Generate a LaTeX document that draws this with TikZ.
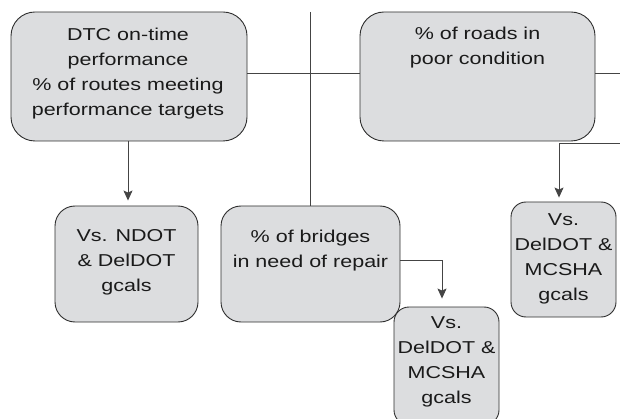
\documentclass[tikz,border=0pt]{standalone}
\usepackage{fontspec}
\setmainfont[FakeStretch=1.25]{Liberation Sans}
\usetikzlibrary{arrows.meta,calc}
\definecolor{boxfill}{HTML}{DCDDDF}
\definecolor{edge}{HTML}{2E2E2E}
\definecolor{linec}{HTML}{444444}
\definecolor{ink}{HTML}{1A1A1A}
\begin{document}
\begin{tikzpicture}[x=1pt,y=-1pt,
  box/.style={draw=edge, line width=0.9pt, fill=boxfill, inner sep=0pt, rounded corners=#1},
  box/.default=20pt,
  txt/.style={inner sep=0pt, align=center, text=ink, font=\fontsize{17.2}{25}\selectfont, anchor=north},
  conn/.style={draw=linec, line width=0.9pt},
  arr/.style={conn, -{Stealth[length=10pt,width=9pt,inset=2pt]}}]
\useasboundingbox (0,0) rectangle (620,419);

% boxes
\node[box=24pt, minimum width=236pt, minimum height=129pt] (A) at (129,76.5) {};
\node[txt] (At) at (128,28) {DTC on-time\\performance\\\% of routes meeting\\performance targets};

\node[box=24pt, minimum width=235pt, minimum height=129pt] (B) at (477.5,76.5) {};
\node[txt] (Bt) at (477.5,27) {\% of roads in\\poor condition};

\node[box=20pt, minimum width=143pt, minimum height=116pt] (C) at (126.5,264) {};
\node[txt] (Ct) at (126.5,229) {Vs. NDOT\\\& DelDOT\\gcals};

\node[box=20pt, minimum width=179pt, minimum height=116pt] (E) at (310.5,264) {};
\node[txt] (Et) at (310.5,230) {\% of bridges\\in need of repair};

\node[box=15pt, minimum width=105pt, minimum height=115pt] (D) at (563.5,259.5) {};
\node[txt] (Dt) at (563.5,213) {Vs.\\DelDOT \&\\MCSHA\\gcals};

\node[box=15pt, minimum width=105pt, minimum height=118pt] (F) at (446.5,366) {};
\node[txt] (Ft) at (446.5,316) {Vs.\\DelDOT \&\\MCSHA\\gcals};

% connectors
\coordinate (hy) at (0,73);
\draw[conn] (A.east |- hy) -- (B.west |- hy);
\coordinate (vtop) at (310.5,12);
\draw[conn] (vtop) -- (E.north);
\coordinate (rEdge) at (620,73);
\draw[conn] (B.east |- hy) -- (rEdge);

\coordinate (rEdge2) at (620,143);
\coordinate (bend) at (559,143);
\draw[arr, shorten >=4pt] (rEdge2) -- (bend) -- (bend |- D.north);

\coordinate (ax) at (128,0);
\draw[arr, shorten >=5pt] (A.south -| ax) -- (C.north -| ax);

\coordinate (ey) at (442,260);
\draw[arr, shorten >=8pt] (E.east |- ey) -- (ey) -- (ey |- F.north);
\end{tikzpicture}
\end{document}
